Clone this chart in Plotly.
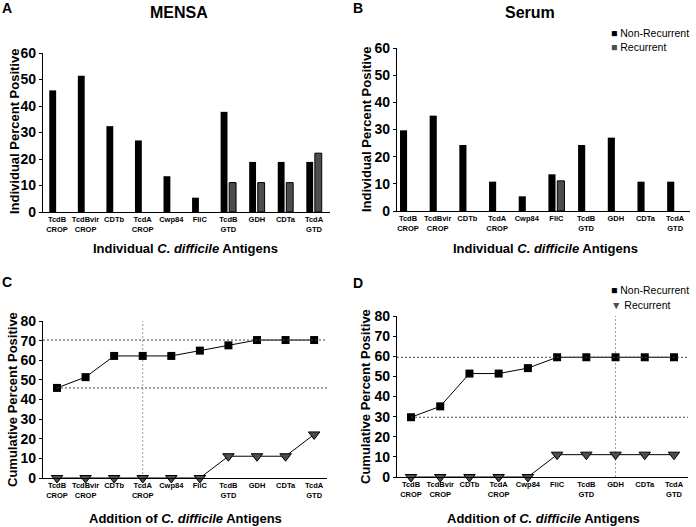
import plotly.graph_objects as go

# ---- data ----
antigens = ["TcdB<br>CROP", "TcdBvir<br>CROP", "CDTb", "TcdA<br>CROP", "Cwp84",
            "FliC", "TcdB<br>GTD", "GDH", "CDTa", "TcdA<br>GTD"]

mensa_nonrec = [45.9, 51.4, 32.4, 27.0, 13.5, 5.4, 37.8, 18.9, 18.9, 18.9]
mensa_rec = [0, 0, 0, 0, 0, 0, 11.1, 11.1, 11.1, 22.2]
serum_nonrec = [29.7, 35.1, 24.3, 10.8, 5.4, 13.5, 24.3, 27.0, 10.8, 10.8]
serum_rec = [0, 0, 0, 0, 0, 11.1, 0, 0, 0, 0]

mensa_cum_nonrec = [45.9, 51.4, 62.2, 62.2, 62.2, 64.9, 67.6, 70.3, 70.3, 70.3]
mensa_cum_rec = [0, 0, 0, 0, 0, 0, 11.1, 11.1, 11.1, 22.2]
serum_cum_nonrec = [29.7, 35.1, 51.4, 51.4, 54.1, 59.5, 59.5, 59.5, 59.5, 59.5]
serum_cum_rec = [0, 0, 0, 0, 0, 11.1, 11.1, 11.1, 11.1, 11.1]

# antigen index marked by the vertical dotted line in C and D
mensa_cut = 3
serum_cut = 7

FONT = "Liberation Sans, Arial, sans-serif"
BLACK = "#000000"
GREY = "#4d4d4d"
xs = list(range(len(antigens)))


def no_zero(vals):
    # zero-height bars are not drawn in the original
    return [v if v else None for v in vals]


fig = go.Figure()

# -----------------------------
# A / B : individual bars
# -----------------------------
for vals_nr, vals_r, ax in [(mensa_nonrec, mensa_rec, ""),
                            (serum_nonrec, serum_rec, "2")]:
    fig.add_trace(go.Bar(x=xs, y=no_zero(vals_nr), name="Non-Recurrent",
                         marker=dict(color=BLACK, line=dict(width=0)),
                         xaxis="x" + ax, yaxis="y" + ax))
    fig.add_trace(go.Bar(x=xs, y=no_zero(vals_r), name="Recurrent",
                         marker=dict(color=GREY, line=dict(color=BLACK, width=1)),
                         xaxis="x" + ax, yaxis="y" + ax))

# -----------------------------
# C / D : cumulative lines
# -----------------------------
for vals_nr, vals_r, ax in [(mensa_cum_nonrec, mensa_cum_rec, "3"),
                            (serum_cum_nonrec, serum_cum_rec, "4")]:
    fig.add_trace(go.Scatter(x=xs, y=vals_nr, mode="lines+markers", name="Non-Recurrent",
                             line=dict(color=BLACK, width=1),
                             marker=dict(symbol="square", size=8, color=BLACK),
                             xaxis="x" + ax, yaxis="y" + ax, cliponaxis=False))
    fig.add_trace(go.Scatter(x=xs, y=vals_r, mode="lines+markers", name="Recurrent",
                             line=dict(color=BLACK, width=1),
                             marker=dict(symbol="triangle-down", size=10, color=GREY,
                                         line=dict(color=BLACK, width=1)),
                             xaxis="x" + ax, yaxis="y" + ax, cliponaxis=False))

# dotted reference lines
dot = dict(color="#444444", width=1, dash="2px,2px")
vdot = dict(color="#999999", width=1, dash="2px,2px")
fig.add_shape(type="line", xref="x3", yref="y3", x0=-0.49, x1=9.45,
              y0=max(mensa_cum_nonrec), y1=max(mensa_cum_nonrec), line=dot)
fig.add_shape(type="line", xref="x3", yref="y3", x0=0, x1=9.45,
              y0=mensa_cum_nonrec[0], y1=mensa_cum_nonrec[0], line=dot)
fig.add_shape(type="line", xref="x3", yref="y3", x0=mensa_cut, x1=mensa_cut,
              y0=0, y1=80, line=vdot, layer="below")
fig.add_shape(type="line", xref="x4", yref="y4", x0=-0.48, x1=9.52,
              y0=max(serum_cum_nonrec), y1=max(serum_cum_nonrec), line=dot)
fig.add_shape(type="line", xref="x4", yref="y4", x0=0, x1=9.48,
              y0=serum_cum_nonrec[0], y1=serum_cum_nonrec[0], line=dot)
fig.add_shape(type="line", xref="x4", yref="y4", x0=serum_cut, x1=serum_cut,
              y0=0, y1=80, line=vdot, layer="below")

# -----------------------------
# axes
# -----------------------------
def xax(domain, rng, anchor):
    return dict(domain=domain, range=rng, anchor=anchor, tickmode="array",
                tickvals=xs, ticktext=antigens, ticks="", showline=True,
                linecolor=BLACK, linewidth=1.2, showgrid=False, zeroline=False,
                automargin=False,
                tickfont=dict(family=FONT, size=7.5, color=BLACK, weight="bold"))


def yax(domain, top, anchor):
    return dict(domain=domain, range=[0, top], anchor=anchor, dtick=10,
                ticks="outside", ticklen=3, tickwidth=1, tickcolor=BLACK,
                showline=True, linecolor=BLACK, linewidth=1.2, showgrid=False,
                zeroline=False, automargin=False,
                tickfont=dict(family=FONT, size=14, color=BLACK, weight="bold"))


W, H = 696, 527
fig.update_layout(
    width=W, height=H,
    margin=dict(l=0, r=0, t=0, b=0, pad=0, autoexpand=False),
    paper_bgcolor="white", plot_bgcolor="white",
    barmode="group", bargap=0.4, bargroupgap=0.2, showlegend=False,
    font=dict(family=FONT, color=BLACK),
    xaxis=xax([43 / W, 330 / W], [-0.49, 9.56], "y"),
    yaxis=yax([1 - 212 / H, 1 - 53 / H], 60, "x"),
    xaxis2=xax([397 / W, 690 / W], [-0.37, 9.5], "y2"),
    yaxis2=yax([1 - 211 / H, 1 - 48 / H], 60, "x2"),
    xaxis3=xax([43 / W, 327 / W], [-0.49, 9.45], "y3"),
    yaxis3=yax([1 - 478 / H, 1 - 321 / H], 80, "x3"),
    xaxis4=xax([397 / W, 688 / W], [-0.48, 9.48], "y4"),
    yaxis4=yax([1 - 477 / H, 1 - 316 / H], 80, "x4"),
)

# -----------------------------
# titles and labels
# -----------------------------
def note(text, x, y, size, angle=0, anchor="center", weight="bold"):
    fig.add_annotation(text=text, x=x / W, y=1 - y / H, xref="paper", yref="paper",
                       showarrow=False, textangle=angle, xanchor=anchor,
                       yanchor="middle", borderpad=0,
                       font=dict(family=FONT, size=size, color=BLACK, weight=weight))


note("MENSA", 179, 13, 16)
note("Serum", 530, 13, 16)
for letter, x, y in [("A", 7, 8), ("B", 358, 8), ("C", 7, 282), ("D", 358, 283)]:
    note(letter, x, y, 14)

note("Individual Percent Positive", 14, 132, 13, -90)
note("Individual Percent Positive", 366, 130, 13, -90)
note("Cumulative Percent Positive", 12, 400, 13, -90)
note("Cumulative Percent Positive", 365, 397, 13, -90)

note("Individual <i>C. difficile</i> Antigens", 186, 249, 13)
note("Individual <i>C. difficile</i> Antigens", 545, 248, 13)
note("Addition of <i>C. difficile</i> Antigens", 185, 518, 13)
note("Addition of <i>C. difficile</i> Antigens", 543, 518, 13)

# legends (symbol glyph + label)
sq_black = "<span style='color:#000000'>■</span>"
sq_grey = "<span style='color:#4d4d4d'>■</span>"
tri_grey = "<span style='color:#4d4d4d'>▼</span>"
note(sq_black + " Non-Recurrent", 610, 33, 10.5, anchor="left", weight="normal")
note(sq_grey + " Recurrent", 610, 47, 10.5, anchor="left", weight="normal")
note(sq_black + " Non-Recurrent", 610, 290, 10.5, anchor="left", weight="normal")
note(tri_grey + " Recurrent", 610, 305, 10.5, anchor="left", weight="normal")

# the page body has a default 8px margin; drop it so the figure fills the window
fig.write_html("out.html", config={"displayModeBar": False},
               post_script="document.body.style.margin = '0px';")
